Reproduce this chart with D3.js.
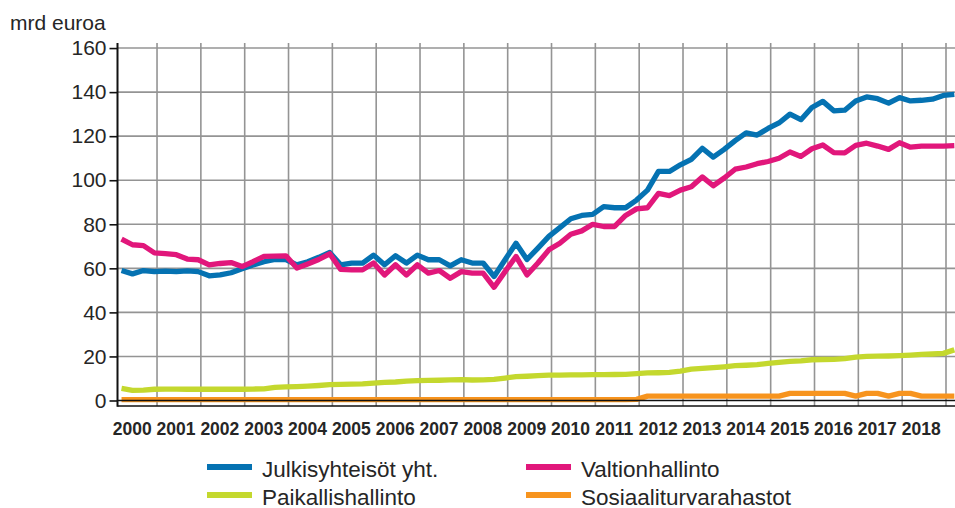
<!DOCTYPE html>
<html><head><meta charset="utf-8">
<script src="https://cdn.jsdelivr.net/npm/d3@7"></script>
<style>
body{margin:0;background:#fff}
svg{display:block}
text{font-family:"Liberation Sans",Arial,sans-serif;fill:#262626}
</style>
</head><body>
<svg id="c" width="955" height="508"></svg>
<script>
// ---- data ----
const years = [2000,2001,2002,2003,2004,2005,2006,2007,2008,2009,2010,2011,2012,2013,2014,2015,2016,2017,2018];
const gridYears = [2001,2002,2003,2004,2005,2006,2007,2008,2009,2010,2011,2012,2013,2014,2015,2016,2017,2018,2019];
const yTicks = [0,20,40,60,80,100,120,140,160];
const quarters = [];
for (let yy = 2000; yy <= 2019; yy++) for (let q = 1; q <= 4; q++) if (quarters.length < 77) quarters.push(yy + "Q" + q);

const total = [59,57.5,59,58.5, 58.7,58.5,58.8,58.5, 56.6,57,58,59.8, 61.5,63,64,64,
  61.6,63,65,67.2, 61.6,62.4,62.4,66, 61.6,65.7,62.4,66, 63.9,63.9,61.1,63.9,
  62.4,62.4,56.3,63.9, 71.4,64,69.2,74.5, 78.5,82.5,84,84.5, 88,87.5,87.5,91,
  95.5,104,104,107, 109.5,114.5,110.5,114, 118,121.5,120.5,123.5, 126,130,127.5,133,
  135.8,131.5,131.8,136, 137.8,137,135,137.5, 136,136.3,136.8,138.5, 139];
const central = [73.3,70.7,70.3,67, 66.7,66.2,64.2,63.9, 61.6,62.2,62.6,60.8, 63,65.4,65.5,65.7,
  60.1,62,64,66.6, 59.5,59.3,59.3,62.4, 57,61.6,57,61.6, 57.8,59,55.5,58.5,
  57.8,57.8,51.4,58.5, 65.4,57,62.4,68.4, 71.4,75.5,77,80, 79,79,84,87,
  87.5,94,93,95.5, 97,101.5,97.5,101, 105,106,107.5,108.5, 110,112.8,110.8,114.3,
  116,112.5,112.4,115.8, 116.8,115.5,114,117, 115,115.5,115.5,115.5, 115.7];
const local = [5.5,4.6,4.7,5.1, 5.2,5.2,5.1,5.1, 5.1,5.2,5.1,5.1, 5.2,5.3,6.0,6.2,
  6.3,6.5,6.8,7.2, 7.3,7.4,7.5,7.9, 8.2,8.4,8.8,9.0, 9.1,9.2,9.4,9.5,
  9.3,9.4,9.6,10.2, 10.8,11.0,11.3,11.5, 11.5,11.6,11.6,11.7, 11.7,11.8,11.9,12.2,
  12.5,12.6,12.8,13.3, 14.2,14.6,14.9,15.3, 15.8,16.0,16.3,16.8, 17.3,17.8,18.0,18.5,
  18.6,18.7,19.0,19.7, 20.0,20.1,20.2,20.4, 20.6,20.9,21.1,21.4, 23];
const social = [0.4,0.4,0.4,0.4, 0.4,0.4,0.4,0.4, 0.4,0.4,0.4,0.4, 0.4,0.4,0.4,0.4,
  0.4,0.4,0.4,0.4, 0.4,0.4,0.4,0.4, 0.4,0.4,0.4,0.4, 0.4,0.4,0.4,0.4,
  0.4,0.4,0.4,0.4, 0.4,0.4,0.4,0.4, 0.4,0.4,0.4,0.4, 0.4,0.4,0.4,0.5,
  2,2,2,2, 2,2,2,2, 2,2,2,2, 2,3.2,3.2,3.2,
  3.2,3.2,3.2,2, 3.2,3.2,2,3.2, 3.2,2,2,2, 2];
const seriesNames = ["Julkisyhteisöt yht.","Valtionhallinto","Paikallishallinto","Sosiaaliturvarahastot"];
const seriesColors = ["#0572b2","#e1177b","#c4d82e","#f7941e"];
const unitLabel = "mrd euroa";

// ---- chart ----
const svg = d3.select("#c");
const pL = 117.5, pR = 955, pT = 43, pB = 406;
const x = d3.scaleLinear().domain([2000, 2019]).range([113.2, 946]);
const y = d3.scaleLinear().domain([-2.5, 162.3]).range([pB, pT]);
const qt = i => 2000 + i / 4 + 0.19;

svg.append("defs").append("clipPath").attr("id","clip")
  .append("rect").attr("x", pL).attr("y", 0).attr("width", pR - pL + 5).attr("height", pB);

// gridlines
const g = svg.append("g");
g.selectAll("line.h").data(yTicks.filter(v => v !== 0)).join("line")
  .attr("x1", pL).attr("x2", pR).attr("y1", d => y(d)).attr("y2", d => y(d))
  .attr("stroke", "#949494").attr("stroke-width", 1.6);
g.selectAll("line.v").data(gridYears).join("line")
  .attr("x1", d => x(d)).attr("x2", d => x(d)).attr("y1", pT).attr("y2", pB)
  .attr("stroke", "#949494").attr("stroke-width", 1.6);

// series
const line = d3.line().x((d, i) => x(qt(i))).y(d => y(d)).curve(d3.curveLinear);
const data = [local, social, total, central];
const cols = [seriesColors[2], seriesColors[3], seriesColors[0], seriesColors[1]];
const lg = svg.append("g").attr("clip-path", "url(#clip)");
data.forEach((s, k) => {
  lg.append("path").attr("d", line(s)).attr("fill", "none")
    .attr("stroke", cols[k]).attr("stroke-width", 5.3)
    .attr("stroke-linejoin", "round").attr("stroke-linecap", "butt");
});

// zero line and bottom axis
svg.append("line").attr("x1", pL).attr("x2", pR).attr("y1", y(0)).attr("y2", y(0))
  .attr("stroke", "#111").attr("stroke-width", 1.6);
svg.append("line").attr("x1", pL).attr("x2", pR).attr("y1", pB).attr("y2", pB)
  .attr("stroke", "#111").attr("stroke-width", 1.6);

// y axis
const ya = svg.append("g").attr("transform", `translate(${pL},0)`)
  .call(d3.axisLeft(y).tickValues(yTicks).tickSize(8).tickPadding(3));
ya.select(".domain").remove();
ya.selectAll(".tick line").attr("stroke", "#111").attr("stroke-width", 1.6);
ya.selectAll(".tick text").attr("font-size", 21).attr("fill", "#262626")
  .style("font-family", '"Liberation Sans",Arial,sans-serif');
svg.append("line").attr("x1", pL).attr("x2", pL).attr("y1", pT).attr("y2", pB + 0.8)
  .attr("stroke", "#111").attr("stroke-width", 2);

// x labels
svg.selectAll("text.xl").data(years).join("text")
  .attr("x", d => x(d) + 19).attr("y", 435)
  .attr("text-anchor", "middle").attr("font-size", 17.5).attr("font-weight", "bold")
  .text(d => d);

// unit
svg.append("text").attr("x", 10).attr("y", 29.5).attr("font-size", 21).text(unitLabel);

// legend
const legPos = [[207, 467], [526, 467], [207, 495], [526, 495]];
seriesNames.forEach((n, k) => {
  const [lx, ly] = legPos[k];
  svg.append("line").attr("x1", lx).attr("x2", lx + 45).attr("y1", ly).attr("y2", ly)
    .attr("stroke", seriesColors[k]).attr("stroke-width", 6);
  svg.append("text").attr("x", lx + 55).attr("y", ly + 9.5).attr("font-size", 22.5).text(n);
});
</script>
</body></html>
